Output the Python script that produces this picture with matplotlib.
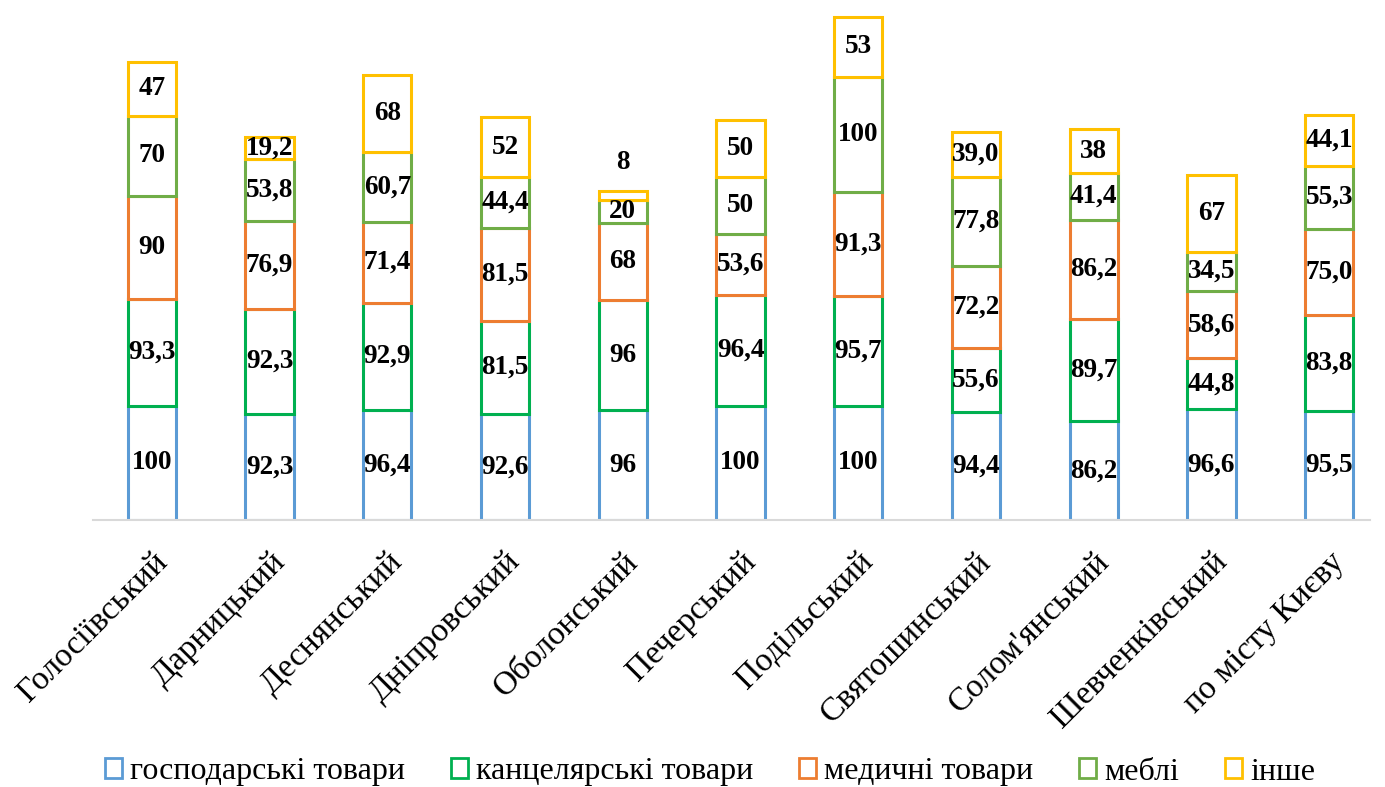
import matplotlib
matplotlib.use("Agg")
import matplotlib.pyplot as plt
from matplotlib.patches import Patch
import numpy as np

plt.rcParams['font.family'] = ['Liberation Serif', 'DejaVu Serif']

categories = ["Голосіївський", "Дарницький", "Деснянський", "Дніпровський", "Оболонський",
              "Печерський", "Подільський", "Святошинський", "Солом'янський", "Шевченківський",
              "по місту Києву"]
series_names = ["господарські товари", "канцелярські товари", "медичні товари", "меблі", "інше"]

gospodarski = [100, 92.3, 96.4, 92.6, 96, 100, 100, 94.4, 86.2, 96.6, 95.5]
kantselyarski = [93.3, 92.3, 92.9, 81.5, 96, 96.4, 95.7, 55.6, 89.7, 44.8, 83.8]
medychni = [90, 76.9, 71.4, 81.5, 68, 53.6, 91.3, 72.2, 86.2, 58.6, 75.0]
mebli = [70, 53.8, 60.7, 44.4, 20, 50, 100, 77.8, 41.4, 34.5, 55.3]
inshe = [47, 19.2, 68, 52, 8, 50, 53, 39.0, 38, 67, 44.1]

labels_gospodarski = ["100", "92,3", "96,4", "92,6", "96", "100", "100", "94,4", "86,2", "96,6", "95,5"]
labels_kantselyarski = ["93,3", "92,3", "92,9", "81,5", "96", "96,4", "95,7", "55,6", "89,7", "44,8", "83,8"]
labels_medychni = ["90", "76,9", "71,4", "81,5", "68", "53,6", "91,3", "72,2", "86,2", "58,6", "75,0"]
labels_mebli = ["70", "53,8", "60,7", "44,4", "20", "50", "100", "77,8", "41,4", "34,5", "55,3"]
labels_inshe = ["47", "19,2", "68", "52", "8", "50", "53", "39,0", "38", "67", "44,1"]

colors = ["#5B9BD5", "#00B050", "#ED7D31", "#70AD47", "#FFC000"]

values = [gospodarski, kantselyarski, medychni, mebli, inshe]
labels = [labels_gospodarski, labels_kantselyarski, labels_medychni, labels_mebli, labels_inshe]

fig = plt.figure(figsize=(13.85, 7.87), dpi=100)
ax = fig.add_axes([93 / 1385, 1 - 520 / 787, 1295 / 1385, 450 * 1.144 / 787])

x = np.arange(len(categories))
bottom = np.zeros(len(categories))
width = 0.41
for vals, labs, col in zip(values, labels, colors):
    vals = np.array(vals, dtype=float)
    ax.bar(x, vals, width, bottom=bottom, facecolor="white", edgecolor=col, linewidth=2.2, zorder=2)
    for xi, b, v, lab in zip(x, bottom, vals, labs):
        if v < 10:
            ax.text(xi, b + v + 14, lab, ha="center", va="bottom", fontsize=19.5, fontweight="bold", zorder=3)
        else:
            ax.text(xi, b + v / 2, lab, ha="center", va="center", fontsize=19.5, fontweight="bold", zorder=3)
    bottom += vals

ax.set_xlim(-0.5, 10.5)
ax.set_ylim(0, 450)
for s in ["top", "right", "left"]:
    ax.spines[s].set_visible(False)
ax.spines["bottom"].set_color("#D9D9D9")
ax.spines["bottom"].set_linewidth(1.5)
ax.spines["bottom"].set_bounds(-0.5, 10.35)
ax.set_yticks([])
ax.set_xticks(x)
ax.set_xticklabels(categories, rotation=45, ha="right", rotation_mode="anchor", fontsize=24)
ax.tick_params(axis="x", length=0, pad=19)

handles = [Patch(facecolor="white", edgecolor=c, linewidth=2) for c in colors]
fig.legend(handles, series_names, loc="center", bbox_to_anchor=(710 / 1385, 1 - 772 / 787), ncol=5,
           frameon=False, fontsize=23, handlelength=0.55, handleheight=0.6, handletextpad=0.25,
           columnspacing=1.42)

fig.savefig("out.png", dpi=100)
